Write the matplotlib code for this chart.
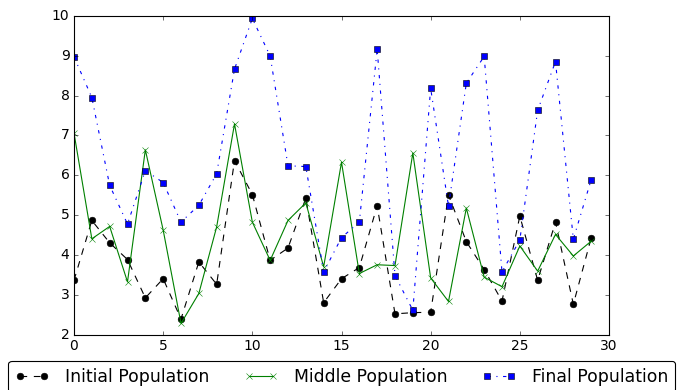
import matplotlib
matplotlib.use("Agg")
import matplotlib.pyplot as plt

plt.style.use("classic")
plt.rcParams["font.family"] = ["DejaVu Sans"]

x = list(range(30))
initial = [3.37, 4.87, 4.31, 3.89, 2.93, 3.41, 2.40, 3.83, 3.27, 6.37,
           5.52, 3.87, 4.18, 5.43, 2.81, 3.41, 3.69, 5.24, 2.53, 2.56,
           2.57, 5.51, 4.34, 3.64, 2.85, 4.98, 3.37, 4.83, 2.77, 4.43]
middle = [7.06, 4.41, 4.72, 3.33, 6.64, 4.63, 2.29, 3.04, 4.71, 7.29,
          4.83, 3.87, 4.87, 5.31, 3.71, 6.33, 3.54, 3.76, 3.74, 6.56,
          3.43, 2.84, 5.18, 3.45, 3.21, 4.23, 3.60, 4.52, 3.98, 4.35]
final = [8.97, 7.95, 5.75, 4.78, 6.12, 5.82, 4.83, 5.25, 6.04, 8.66,
         9.93, 8.99, 6.24, 6.22, 3.58, 4.44, 4.83, 9.16, 3.49, 2.62,
         8.18, 5.23, 8.31, 8.98, 3.58, 4.38, 7.63, 8.85, 4.40, 5.89]
labels = ["Initial Population", "Middle Population", "Final Population"]

fig = plt.figure(figsize=(681 / 80, 390 / 80), dpi=80, facecolor="white")
ax = fig.add_axes([74 / 681, 1 - 335 / 390, (609 - 74) / 681, (335 - 15.7) / 390])
ax.plot(x, initial, "ko--", label=labels[0])
ax.plot(x, middle, "gx-", label=labels[1])
ax.plot(x, final, "bs-.", label=labels[2])
ax.set_xlim(0, 30)
ax.set_ylim(2, 10)
ax.tick_params(labelsize=12.5)
ax.legend(loc="upper center", bbox_to_anchor=(0.5017, 1 - 360.7 / 390), bbox_transform=fig.transFigure,
          ncol=3, numpoints=2, fontsize=15.5, borderaxespad=0, fancybox=True,
          handletextpad=0.9)
fig.savefig("out.png", dpi=80, facecolor="white")
